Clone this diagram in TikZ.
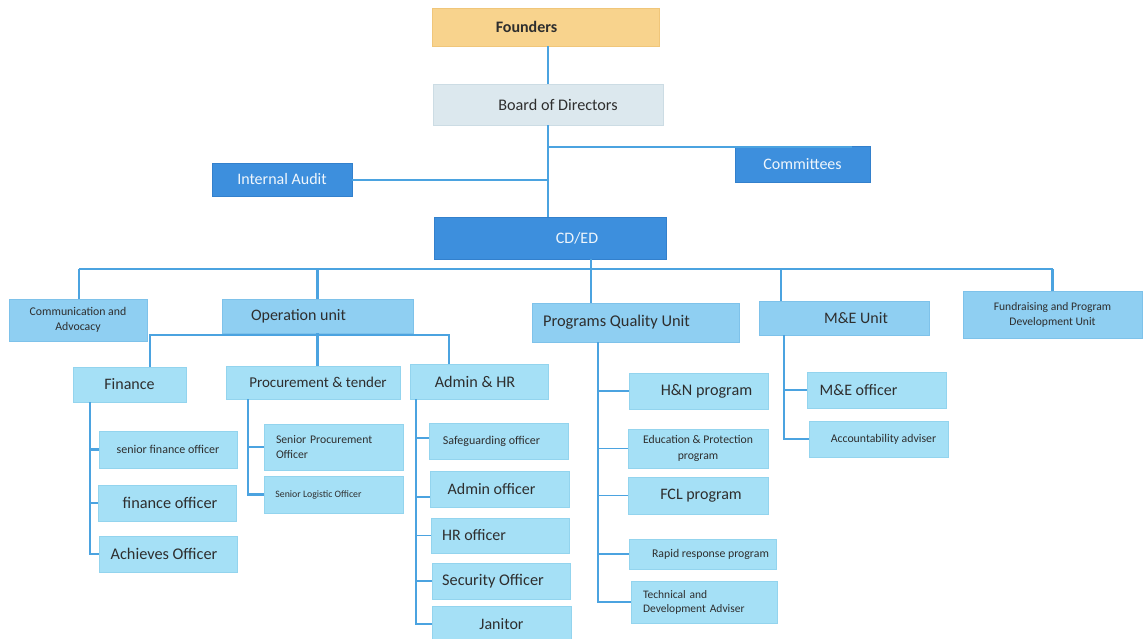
\documentclass[tikz,border=0pt]{standalone}
\usepackage{fontspec}
\setmainfont{Carlito}
\definecolor{ln}{HTML}{4BA3E0}
\definecolor{dk}{HTML}{3D8FDD}
\definecolor{dkb}{HTML}{3380CC}
\definecolor{unitc}{HTML}{8FCFF2}
\definecolor{unitb}{HTML}{7EC2EA}
\definecolor{leafc}{HTML}{A5E0F6}
\definecolor{leafb}{HTML}{93D4EE}
\definecolor{fnd}{HTML}{F8D38D}
\definecolor{fndb}{HTML}{F0C67A}
\definecolor{brd}{HTML}{DCE8EE}
\definecolor{brdb}{HTML}{CCDCE4}
\definecolor{txt}{HTML}{2E2E2E}
\newcommand\fsz[2]{\fontsize{#1}{#2}\selectfont}
\tikzset{
  box/.style={rectangle, inner sep=0pt, text=txt, line width=0.6pt},
  leafbox/.style={box, fill=leafc, draw=leafb},
  unitbox/.style={box, fill=unitc, draw=unitb},
  darkbox/.style={box, fill=dk, draw=dkb, text=white!92!dk},
  mainln/.style={draw=ln, line width=2.4pt},
  thinln/.style={draw=ln, line width=1.3pt},
}
\begin{document}
\begin{tikzpicture}[x=1pt,y=-1pt]
\useasboundingbox (0,0) rectangle (1147,639);
\fill[white] (0,0) rectangle (1147,639);

% top level
\node[box, fill=fnd, draw=fndb, minimum width=227pt, minimum height=38pt, font=\fsz{16}{19}\bfseries] (founders) at (545.5,27) {\hspace*{-38pt}Founders};
\node[box, fill=brd, draw=brdb, minimum width=230pt, minimum height=41pt, font=\fsz{16.2}{19}] (board) at (548,104.5) {\hspace*{20pt}Board of Directors};
\node[darkbox, minimum width=135pt, minimum height=36pt, font=\fsz{16}{19}] (comm) at (802.5,164) {Committees};
\node[darkbox, minimum width=140pt, minimum height=33pt, font=\fsz{16}{19}] (audit) at (282,179.5) {Internal Audit};
\node[darkbox, minimum width=232pt, minimum height=42pt, font=\fsz{16}{19}] (cded) at (550,238) {\hspace*{54pt}CD/ED};

% units
\node[unitbox, minimum width=138pt, minimum height=42pt, align=center, font=\fsz{11.8}{15}] (adv) at (78,320) {Communication and\\Advocacy};
\node[unitbox, minimum width=191pt, minimum height=34pt, font=\fsz{16}{19}] (ops) at (317.5,316) {\hspace*{-38pt}Operation unit};
\node[unitbox, minimum width=207pt, minimum height=39pt, font=\fsz{16.4}{19}] (progs) at (635.5,322.5) {\hspace*{-38pt}Programs Quality Unit};
\node[unitbox, minimum width=170pt, minimum height=34pt, font=\fsz{16}{19}] (mne) at (844,318) {\hspace*{24pt}M\&E Unit};
\node[unitbox, minimum width=179pt, minimum height=47pt, align=center, font=\fsz{11.6}{15}] (fund) at (1052.5,314.5) {Fundraising and Program\\Development Unit};

% operation sub-units
\node[leafbox, minimum width=113pt, minimum height=35pt, font=\fsz{16}{19}] (fin) at (129.5,384.5) {Finance};
\node[leafbox, minimum width=174pt, minimum height=33pt, font=\fsz{15}{18}] (proc) at (313,382.5) {\hspace*{10pt}Procurement \& tender};
\node[leafbox, minimum width=138pt, minimum height=35pt, font=\fsz{16.2}{19}] (adm) at (479,381.5) {\hspace*{-8pt}Admin \& HR};

% finance
\node[leafbox, minimum width=138pt, minimum height=37pt, font=\fsz{12}{14}] (sfo) at (168,449.5) {senior finance officer};
\node[leafbox, minimum width=138pt, minimum height=36pt, font=\fsz{16.3}{19}] (fo) at (167,503) {\hspace*{6pt}finance officer};
\node[leafbox, minimum width=138pt, minimum height=36pt, font=\fsz{16.3}{19}] (ach) at (168,554) {\hspace*{-8pt}Achieves Officer};

% procurement
\node[leafbox, minimum width=139pt, minimum height=46pt, text width=115pt, align=left, font=\fsz{11.7}{14.5}] (spo) at (333.5,447) {Senior Procurement\\Officer};
\node[leafbox, minimum width=139pt, minimum height=37pt, font=\fsz{9.8}{12}] (slo) at (333.5,494.5) {\hspace*{-30pt}Senior Logistic Officer};

% admin
\node[leafbox, minimum width=139pt, minimum height=36pt, font=\fsz{12}{14}] (safe) at (498.5,441) {\hspace*{-14pt}Safeguarding officer};
\node[leafbox, minimum width=139pt, minimum height=36pt, font=\fsz{16}{19}] (aof) at (499.5,489) {\hspace*{-16pt}Admin officer};
\node[leafbox, minimum width=138pt, minimum height=35pt, font=\fsz{16}{19}] (hro) at (500,535.5) {\hspace*{-52pt}HR officer};
\node[leafbox, minimum width=138pt, minimum height=36pt, font=\fsz{16.3}{19}] (sec) at (501,581) {\hspace*{-16pt}Security Officer};
\node[leafbox, minimum width=139pt, minimum height=36pt, font=\fsz{16}{19}] (jan) at (501.5,624) {Janitor};

% programs
\node[leafbox, minimum width=139pt, minimum height=36pt, font=\fsz{16.2}{19}] (hn) at (698.5,391) {\hspace*{16pt}H\&N program};
\node[leafbox, minimum width=140pt, minimum height=39pt, align=center, font=\fsz{11.7}{16}] (edu) at (698,448.5) {Education \& Protection\\program};
\node[leafbox, minimum width=140pt, minimum height=37pt, font=\fsz{16}{19}] (fcl) at (698,495.5) {\hspace*{6pt}FCL program};
\node[leafbox, minimum width=147pt, minimum height=30pt, font=\fsz{11.8}{14}] (rap) at (702.5,554) {\hspace*{16pt}Rapid response program};
\node[leafbox, minimum width=146pt, minimum height=42pt, text width=122pt, align=left, font=\fsz{11.5}{14}] (tech) at (704,602) {Technical and\\Development Adviser};

% M&E
\node[leafbox, minimum width=139pt, minimum height=36pt, font=\fsz{16}{19}] (meo) at (876.5,390) {\hspace*{-36pt}M\&E officer};
\node[leafbox, minimum width=139pt, minimum height=36pt, font=\fsz{11.8}{14}] (acc) at (878.5,439) {\hspace*{10pt}Accountability adviser};

% ---------- connectors ----------
\coordinate (cj) at (548,147);
\coordinate (aj) at (548,180);
\coordinate (busL) at (79,269);
\coordinate (busR) at (1052.5,269);
\coordinate (tap) at (591,269);
\coordinate (metap) at (781,269);

\draw[mainln] (board.north) -- (board.north |- founders.south);
\draw[mainln] (board.south) -- (board.south |- cded.north);
\draw[thinln] (cj) -- (cj -| 852,0);
\draw[mainln] (audit.east |- aj) -- (aj);

% bus
\draw[mainln] (busL) -- (busR);
\draw[mainln] (busL) -- (busL |- adv.north);
\draw[mainln] (ops.north |- busL) -- (ops.north);
\draw[mainln] (tap |- cded.south) -- (tap |- progs.north);
\draw[mainln] (metap) -- (metap |- mne.north);
\draw[mainln] (busR) -- (fund.north);

% operation unit
\coordinate (ob) at (150,335);
\draw[mainln] (ob |- fin.north) -- (ob) -- (ob -| 449,0) -- (adm.north -| 449,0);
\draw[mainln] (ops.south) -- (ops.south |- proc.north);

% finance
\coordinate (fx) at (90,402);
\draw[mainln] (fx |- fin.south) |- (ach.west);
\draw[mainln] (fx |- sfo.west) -- (sfo.west);
\draw[mainln] (fx |- fo.west) -- (fo.west);

% procurement
\coordinate (px) at (248,399);
\draw[mainln] (px |- proc.south) |- (slo.west);
\draw[mainln] (px |- spo.west) -- (spo.west);

% admin
\coordinate (ax) at (416,399);
\draw[mainln] (ax |- adm.south) |- (jan.west);
\draw[thinln] ([yshift=3pt]safe.west -| ax) -- ([yshift=3pt]safe.west);
\draw[thinln] ([yshift=-8pt]aof.west -| ax) -- ([yshift=-8pt]aof.west);
\draw[thinln] (hro.west -| ax) -- (hro.west);
\draw[thinln] (sec.west -| ax) -- (sec.west);

% programs
\coordinate (qx) at (598,342);
\draw[mainln] (qx |- progs.south) |- (tech.west);
\draw[thinln] (hn.west -| qx) -- (hn.west);
\draw[thinln] (edu.west -| qx) -- (edu.west);
\draw[thinln] (fcl.west -| qx) -- (fcl.west);
\draw[thinln] (rap.west -| qx) -- (rap.west);

% M&E
\coordinate (mx) at (784,335);
\draw[mainln] (mx |- mne.south) |- (acc.west);
\draw[thinln] (meo.west -| mx) -- (meo.west);
\end{tikzpicture}
\end{document}
